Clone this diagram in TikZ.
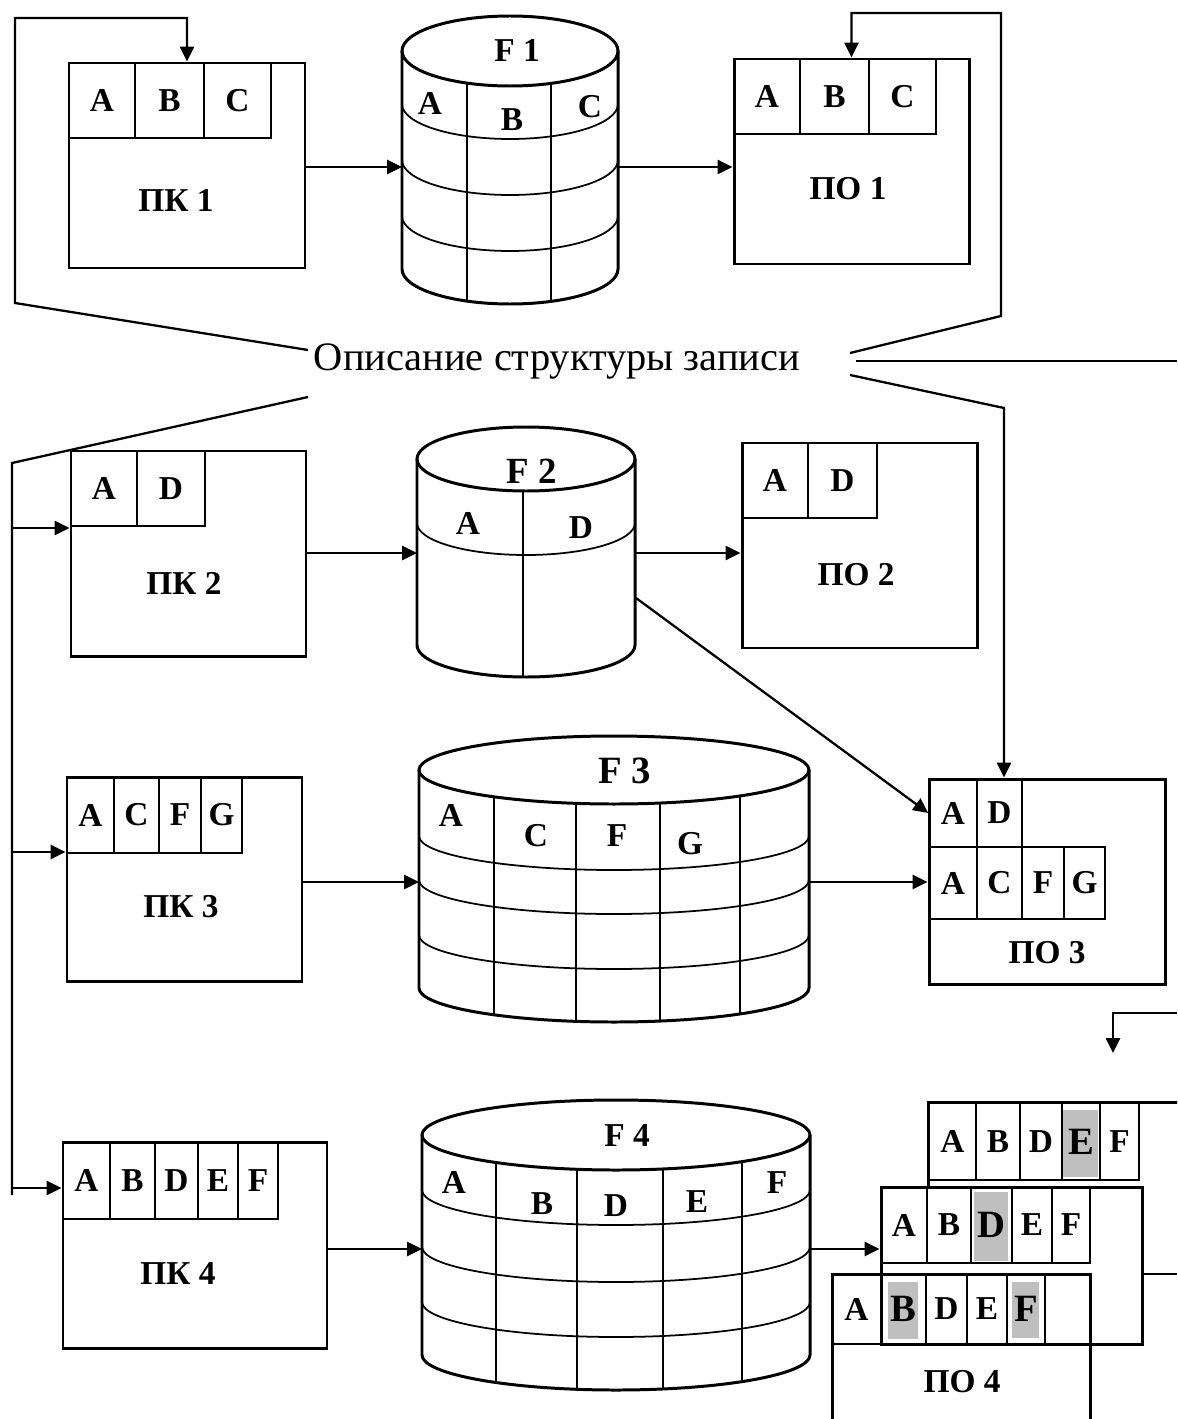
\documentclass[tikz,border=0pt]{standalone}
\usepackage{fontspec}
\setmainfont{Liberation Serif}
\usetikzlibrary{arrows.meta, fit}

\tikzset{
  box/.style={draw, line width=1.7pt, inner sep=0pt},
  boxline/.style={line width=1.7pt},
  cell/.style={draw, line width=0.9pt, inner sep=0pt},
  drum/.style={line width=1.7pt},
  ruling/.style={line width=1pt},
  arr/.style={line width=1.3pt, -{Triangle[length=8.5pt, width=8pt]}},
  wire/.style={line width=1.3pt},
  ttl/.style={font=\fontsize{19}{21}\selectfont\bfseries, inner sep=0pt},
  hl/.style={fill=black!25, draw=none}
}

% bigger letter for the marked fields
\newcommand{\hlt}[1]{{\fontsize{22}{23}\selectfont #1}}

% cylinder outline: centre x, top y, bottom y, x radius, y radius
\newcommand{\drum}[5]{%
  \draw[drum] (#1,#2) ellipse[x radius=#4, y radius=#5];
  \draw[drum] (#1-#4,#2) -- (#1-#4,#3)
    arc[start angle=180, end angle=0, x radius=#4, y radius=#5] -- (#1+#4,#2);
}
% rows of a cylinder: centre x, x radius, y radius, list of y
\newcommand{\drumrows}[4]{%
  \foreach \ry in {#4}
    \draw[ruling] (#1-#2,\ry) arc[start angle=180, end angle=0, x radius=#2, y radius=#3];
}
% columns of a cylinder, clipped to its side
\newcommand{\drumcols}[6]{%
  \begin{scope}
    \clip (#1-#4,#2) arc[start angle=180, end angle=0, x radius=#4, y radius=#5]
      -- (#1+#4,#3) arc[start angle=0, end angle=180, x radius=#4, y radius=#5] -- cycle;
    \foreach \cx in {#6} \draw[ruling] (\cx,#2-#5) -- (\cx,#3+#5);
  \end{scope}
}
% one row of record fields: name, top y, bottom y, list xa/xb/label
\newcommand{\fields}[4]{%
  \foreach \xa/\xb/\lab [count=\n] in {#4} {
    \node[cell, fit={(\xa,#2) (\xb,#3)}] (#1\n) {};
    \node[ttl] (#1l\n) at (#1\n.center) {\lab};
  }
}

\begin{document}
\begin{tikzpicture}[x=0.02cm, y=-0.02cm]
    \useasboundingbox (0,0) rectangle (1177,1419);
    \clip (0,0) rectangle (1177,1419);

    % record description
    \node[font=\fontsize{23}{26}\selectfont, anchor=base] (descr) at (557,370) {Описание структуры записи};
    \coordinate (ul) at (308,350);
    \coordinate (ll) at (308,397);
    \coordinate (ur) at (850,353);
    \coordinate (rr) at (856,361);
    \coordinate (lr) at (850,375);

    % row 1
    \node[box, fit={(69,63) (305,268)}] (pk1) {};
    \fields{pk1c}{63}{138}{69/135/A, 135/204/B, 204/271/C}
    \node[ttl] (pk1t) at (176,200) {ПК 1};

    \drum{510}{51}{269}{108}{35}
    \drumrows{510}{108}{35}{104,160,216}
    \drumcols{510}{51}{269}{108}{35}{467,551}
    \node[ttl] (f1t) at (517,50) {F 1};
    \node[ttl] (f1a) at (430,103) {A};
    \node[ttl] (f1b) at (512,120) {B};
    \node[ttl] (f1c) at (590,107) {C};
    \coordinate (f1w) at (402,167);
    \coordinate (f1e) at (618,167);

    \node[box, fit={(734,59) (969,264)}] (po1) {};
    \fields{po1c}{59}{134}{734/800/A, 800/869/B, 869/936/C}
    \node[ttl] (po1t) at (848,189) {ПО 1};

    % row 2
    \node[box, fit={(71,451) (306,656)}] (pk2) {};
    \fields{pk2c}{451}{526}{71/137/A, 137/205/D}
    \node[ttl] (pk2t) at (184,583) {ПК 2};

    \drum{526}{459}{645}{109}{32}
    \drumrows{526}{109}{32}{523}
    \drumcols{526}{459}{645}{109}{32}{523}
    \node[ttl, font=\fontsize{21}{23}\selectfont\bfseries] (f2t) at (532,471) {F 2};
    \node[ttl] (f2a) at (468,523) {A};
    \node[ttl] (f2b) at (581,528) {D};
    \coordinate (f2w) at (417,553);
    \coordinate (f2e) at (635,553);
    \coordinate (f2d) at (636,598);

    \node[box, fit={(742,443) (977,648)}] (po2) {};
    \fields{po2c}{443}{518}{742/808/A, 808/877/D}
    \node[ttl] (po2t) at (856,575) {ПО 2};

    % row 3
    \node[box, fit={(67,777) (302,981)}] (pk3) {};
    \fields{pk3c}{777}{853}{67/114/A, 114/159/C, 159/201/F, 201/242/G}
    \node[ttl] (pk3t) at (181,907) {ПК 3};

    \drum{614}{770}{988}{195}{34}
    \drumrows{614}{195}{34}{836,880,935}
    \drumcols{614}{770}{988}{195}{34}{494,576,660,740}
    \node[ttl, font=\fontsize{22}{24}\selectfont\bfseries] (f3t) at (625,771) {F 3};
    \node[ttl] (f3a) at (451,815) {A};
    \node[ttl] (f3b) at (536,836) {C};
    \node[ttl] (f3c) at (617,836) {F};
    \node[ttl] (f3d) at (690,844) {G};
    \coordinate (f3w) at (419,882);
    \coordinate (f3e) at (809,882);

    \node[box, fit={(929,779) (1165,984)}] (po3) {};
    \fields{po3c}{779}{847}{929/977/A, 977/1022/D}
    \fields{po3d}{847}{919}{929/977/A, 977/1022/C, 1022/1064/F, 1064/1105/G}
    \node[ttl] (po3t) at (1047,953) {ПО 3};

    % row 4
    \node[box, fit={(63,1142) (327,1348)}] (pk4) {};
    \fields{pk4c}{1142}{1219}{63/110/A, 110/155/B, 155/198/D, 198/238/E, 238/278/F}
    \node[ttl] (pk4t) at (178,1273) {ПК 4};

    \drum{616}{1135}{1355}{194}{35}
    \drumrows{616}{194}{35}{1190,1247,1302}
    \drumcols{616}{1135}{1355}{194}{35}{496,577,663,742}
    \node[ttl, font=\fontsize{19}{21}\selectfont\bfseries] (f4t) at (627,1136) {F 4};
    \node[ttl] (f4a) at (454,1182) {A};
    \node[ttl] (f4b) at (542,1204) {B};
    \node[ttl] (f4c) at (616,1206) {D};
    \node[ttl] (f4d) at (697,1202) {E};
    \node[ttl] (f4f) at (777,1183) {F};
    \coordinate (f4w) at (422,1249);
    \coordinate (f4e) at (810,1249);

    % output 4: three stacked records
    \fill[hl] (1063,1110) rectangle (1098,1177);
    \fill[hl] (974,1192) rectangle (1008,1261);
    \fill[hl] (888,1282) rectangle (918,1339);
    \fill[hl] (1012,1282) rectangle (1039,1338);

    \node[fit={(929,1103) (1200,1187)}, inner sep=0pt] (po4a) {};
    \draw[boxline] (po4a.north east) -- (po4a.north west) -- (po4a.south west);
    \fields{po4a}{1103}{1180}{929/976/A, 976/1020/B, 1020/1062/D, 1062/1100/\hlt{E}, 1100/1139/F}

    \node[box, fit={(881,1187) (1142,1344)}] (po4b) {};
    \fields{po4b}{1187}{1263}{881/927/A, 927/971/B, 971/1012/\hlt{D}, 1012/1052/E, 1052/1090/F}

    \node[box, fit={(832,1274) (1090,1440)}] (po4c) {};
    \fields{po4c}{1274}{1344}{832/881/A, 881/926/\hlt{B}, 926/967/D, 967/1007/E, 1007/1045/\hlt{F}}
    \node[ttl] (po4t) at (962,1382) {ПО 4};

    % flows
    \draw[arr] (pk1.east |- f1w) -- (f1w);
    \draw[arr] (f1e) -- (f1e -| po1.west);
    \draw[arr] (pk2.east |- f2w) -- (f2w);
    \draw[arr] (f2e) -- (f2e -| po2.west);
    \draw[arr] (f2d) -- (po3c1.west);
    \draw[arr] (pk3.east |- f3w) -- (f3w);
    \draw[arr] (f3e) -- (f3e -| po3.west);
    \draw[arr] (pk4.east |- f4w) -- (f4w);
    \draw[arr] (f4e) -- (f4e -| po4b.west);

    % links from the description
    \draw[arr] (ul) -- (15,303) -- (15,18) -| (pk1.north);
    \draw[arr] (ur) -- (1001,316) -- (1001,13) -| (po1.north);
    \draw[wire] (rr) -- (1177,361);
    \draw[arr] (lr) -- (1004,408) -- (1004,408 |- po3.north);
    \draw[wire] (ll) -- (12,463) -- (12,1195);
    \coordinate (b2) at (12,528);
    \coordinate (b3) at (12,852);
    \coordinate (b4) at (12,1188);
    \draw[arr] (b2) -- (b2 -| pk2.west);
    \draw[arr] (b3) -- (b3 -| pk3.west);
    \draw[arr] (b4) -- (b4 -| pk4.west);

    % lines leaving the picture
    \coordinate (r4) at (1177,1013);
    \draw[arr] (r4) -- (1113,1013) -- (1113,1053);
    \draw[wire] (po4b.east |- 0,1274) -- (1177,1274);
\end{tikzpicture}
\end{document}
